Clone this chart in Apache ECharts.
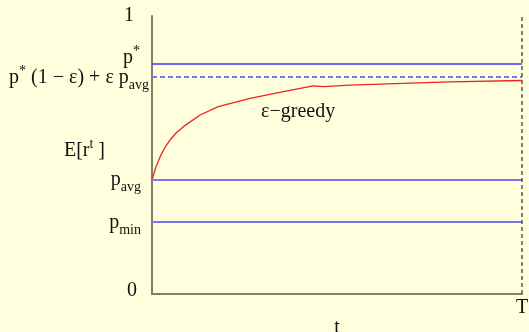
<!DOCTYPE html>
<html><head><meta charset="utf-8">
<script src="https://cdn.jsdelivr.net/npm/echarts@6/dist/echarts.min.js"></script>
<style>html,body{margin:0;padding:0;background:#ffffdd}#chart{width:529px;height:332px}</style>
</head><body><div id="chart"></div>
<script>
// time, as a percentage of the horizon T
const tValues = [0, 1, 2.2, 3.5, 4.9, 6.5, 8.5, 13, 17.9, 26.5, 35.5, 43.6, 46.3, 53.5, 61.6, 80.5, 100];
// expected reward E[r^t] of the epsilon-greedy player
const greedyReward = [0.41, 0.455, 0.494, 0.527, 0.554, 0.579, 0.602, 0.644, 0.674, 0.704, 0.728, 0.749, 0.746, 0.751, 0.755, 0.763, 0.768];
// reference reward levels
const pStar = 0.835;
const pEps = 0.777;
const pAvg = 0.41;
const pMin = 0.255;
const yTicks = [0, pMin, pAvg, pEps, pStar, 1];
const yTickNames = [
  '{n0|0}',
  '{m|p}{subMin|min}',
  '{m|p}{subAvg|avg}',
  '{m|p}{sup|*}{m| (1 − ε) + ε p}{sub|avg}',
  '{mUp|p}{supStar|*}',
  '{n1|1}'
];
const xTicks = [100];
const xTickNames = ['T'];
const curveName = 'ε−greedy';
const curveLabelAt = [39.5, 0.656];

const FONT = '"Liberation Serif", "DejaVu Serif", serif';
const INK = '#111';
const BIG = 20;
const SMALL = 14;
const rich = {
  m: {fontFamily: FONT, fontSize: BIG, color: INK},
  mUp: {fontFamily: FONT, fontSize: BIG, color: INK, padding: [0, 0, 8, 0]},
  n0: {fontFamily: FONT, fontSize: BIG, color: INK, padding: [0, 12, 6, 0]},
  n1: {fontFamily: FONT, fontSize: BIG, color: INK, padding: [0, 15, 0, 0]},
  sup: {fontFamily: FONT, fontSize: SMALL, color: INK, padding: [0, 0, 14, 0]},
  supStar: {fontFamily: FONT, fontSize: SMALL, color: INK, padding: [0, 9, 22, 0]},
  sub: {fontFamily: FONT, fontSize: SMALL, color: INK, padding: [14, 0, 0, 0]},
  subAvg: {fontFamily: FONT, fontSize: SMALL, color: INK, padding: [14, 8, 0, 0]},
  subMin: {fontFamily: FONT, fontSize: SMALL, color: INK, padding: [14, 8, 0, 0]}
};

const chart = echarts.init(document.getElementById('chart'));
const hLine = (v, color, width, type) => ({yAxis: v, lineStyle: {color, width, type}});

chart.setOption({
  backgroundColor: '#ffffdd',
  animation: false,
  grid: {left: 152, right: 7, top: 16, bottom: 38, containLabel: false, outerBoundsMode: 'none'},
  xAxis: {
    type: 'value', min: 0, max: 100,
    name: 't', nameLocation: 'middle', nameGap: 24, nameMoveOverlap: false,
    nameTextStyle: {fontFamily: FONT, fontSize: BIG, color: INK},
    axisLine: {lineStyle: {color: '#7f7f6c', width: 2}},
    axisTick: {show: false},
    splitLine: {show: false},
    axisLabel: {
      customValues: xTicks,
      formatter: v => xTickNames[xTicks.indexOf(v)],
      fontFamily: FONT, fontSize: BIG, color: INK, margin: 4
    }
  },
  yAxis: {
    type: 'value', min: 0, max: 1,
    name: '{m|E[r}{sup|t}{m| ]}', nameLocation: 'middle', nameRotate: 0, nameGap: 47, nameMoveOverlap: false,
    nameTextStyle: {rich, padding: [0, 0, 8, 0]},
    axisLine: {lineStyle: {color: '#7f7f6c', width: 2}},
    axisTick: {show: false},
    splitLine: {show: false},
    axisLabel: {
      customValues: yTicks,
      formatter: v => yTickNames[yTicks.indexOf(v)],
      rich, margin: 3
    }
  },
  series: [{
    type: 'line',
    name: curveName,
    data: tValues.map((t, i) => [t, greedyReward[i]]),
    showSymbol: false,
    symbol: 'none',
    lineStyle: {color: '#ee2222', width: 1.3},
    z: 3,
    markLine: {
      silent: true,
      symbol: ['none', 'none'],
      label: {show: false},
      data: [
        hLine(pStar, '#3a3af0', 1.5, 'solid'),
        hLine(pEps, '#7878ee', 2, [5, 3]),
        hLine(pAvg, '#7878ee', 2, 'solid'),
        hLine(pMin, '#7878ee', 2, 'solid'),
        {xAxis: 100, lineStyle: {color: '#555', width: 1.5, type: [4, 3]}}
      ]
    },
    markPoint: {
      silent: true,
      symbol: 'circle',
      symbolSize: 0,
      data: [{coord: curveLabelAt}],
      label: {
        show: true, position: 'inside',
        formatter: curveName,
        fontFamily: FONT, fontSize: BIG, color: INK
      }
    }
  }]
});
</script>
</body></html>
